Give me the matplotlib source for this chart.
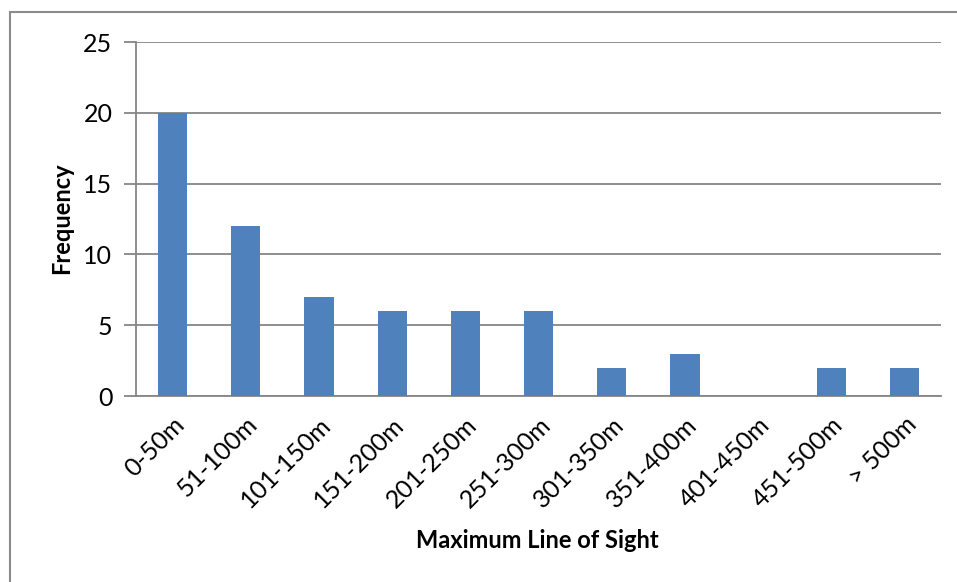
import matplotlib.pyplot as plt
from matplotlib.patches import Rectangle

ranges = ["0-50m", "51-100m", "101-150m", "151-200m", "201-250m", "251-300m",
          "301-350m", "351-400m", "401-450m", "451-500m", "> 500m"]
freq = [20, 12, 7, 6, 6, 6, 2, 3, 0, 2, 2]
yticks = [0, 5, 10, 15, 20, 25]

plt.rcParams['font.family'] = ['Lato', 'DejaVu Sans']

W, H = 957, 582
fig = plt.figure(figsize=(W / 100, H / 100), dpi=100)
ax = fig.add_axes([136 / W, 1 - 396 / H, (941 - 136) / W, (396 - 42) / H])

# outer chart frame, clipped at right and bottom
fig.patches.append(Rectangle((10 / W, -0.1), 1.2, 1.1 - 12 / H,
                             transform=fig.transFigure, fill=False,
                             edgecolor='#8c8c8c', linewidth=1.5))

x = range(len(ranges))
ax.bar(x, freq, width=0.4, color='#4F81BD', zorder=3)

ax.set_xlim(-0.5, len(ranges) - 0.5)
ax.set_ylim(0, 25)
ax.set_yticks(yticks)
ax.yaxis.grid(True, color='#868686', linewidth=1.3, zorder=0)

ax.set_xticks(list(x))
ax.set_xticklabels(ranges, rotation=45, ha='right', rotation_mode='anchor',
                   fontsize=18)
ax.tick_params(axis='x', length=0, pad=12)
ax.tick_params(axis='y', length=9, width=1.3, color='#868686', labelsize=18, pad=8)

for side in ['top', 'right']:
    ax.spines[side].set_visible(False)
for side in ['left', 'bottom']:
    ax.spines[side].set_color('#868686')
    ax.spines[side].set_linewidth(1.3)

ax.set_ylabel("Frequency", fontsize=17, fontweight='bold')
ax.set_xlabel("Maximum Line of Sight", fontsize=17, fontweight='bold')
ax.yaxis.set_label_coords((62 - 136) / (941 - 136), (396 - 218) / (396 - 42))
ax.xaxis.set_label_coords((537 - 136) / (941 - 136), -(540 - 396) / (396 - 42))
ax.xaxis.label.set_va('center')
ax.yaxis.label.set_va('center')

fig.savefig("out.png")
